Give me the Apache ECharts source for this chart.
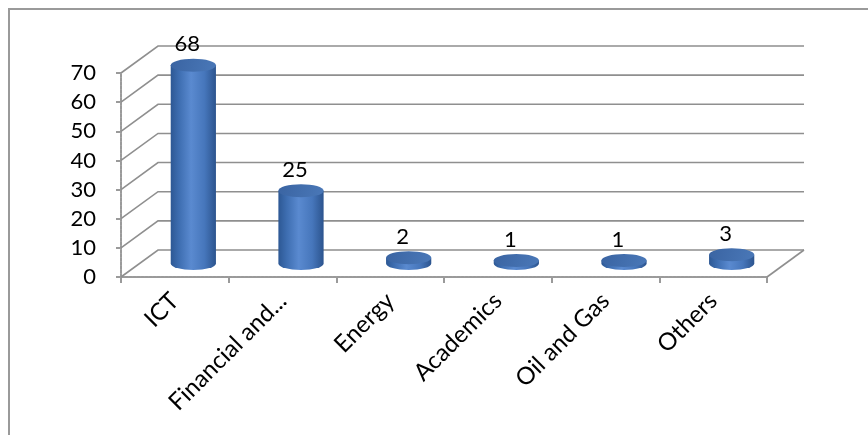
<!DOCTYPE html>
<html>
<head>
<meta charset="utf-8">
<script src="https://cdn.jsdelivr.net/npm/echarts@6/dist/echarts.min.js"></script>
<style>
  html, body { margin: 0; padding: 0; background: #ffffff; }
  #chart { width: 868px; height: 435px; }
</style>
</head>
<body>
<div id="chart"></div>
<script>
// Respondents by sector
const categories = ['ICT', 'Financial and...', 'Energy', 'Academics', 'Oil and Gas', 'Others'];
const respondents = [68, 25, 2, 1, 1, 3];
const yTicks = [0, 10, 20, 30, 40, 50, 60, 70];

// Depth of the pseudo-3D box (offset from the front plane to the back wall)
const DEPTH_X = 37;
const DEPTH_Y = -27;
const GRID_COLOR = '#8f8f8f';
const FONT = 'Lato, "Open Sans", sans-serif';

const chart = echarts.init(document.getElementById('chart'), null, { renderer: 'canvas' });

function ellipsePath(cx, cy, rx, ry) {
  return 'M' + (cx - rx) + ' ' + cy +
    ' A' + rx + ' ' + ry + ' 0 1 0 ' + (cx + rx) + ' ' + cy +
    ' A' + rx + ' ' + ry + ' 0 1 0 ' + (cx - rx) + ' ' + cy + ' Z';
}

// Back wall grid lines, left side wall diagonals and the floor outline
function renderWall(params, api) {
  const cs = params.coordSys;
  const v = api.value(1);
  const y = api.coord([0, v])[1];
  const x0 = cs.x;
  const x1 = cs.x + cs.width;
  const children = [{
    type: 'polyline',
    shape: { points: [[x0, y], [x0 + DEPTH_X, y + DEPTH_Y], [x1 + DEPTH_X, y + DEPTH_Y]] },
    style: { stroke: GRID_COLOR, lineWidth: 1.6, fill: null }
  }];
  if (v === 0) {
    children.push({
      type: 'line',
      shape: { x1: x1, y1: y, x2: x1 + DEPTH_X, y2: y + DEPTH_Y },
      style: { stroke: GRID_COLOR, lineWidth: 1.6 }
    });
  }
  return { type: 'group', children: children };
}

// Cylinder bars standing in the middle of the box depth
function renderCylinder(params, api) {
  const i = api.value(0);
  const v = api.value(1);
  const base = api.coord([i, 0]);
  const top = api.coord([i, v]);
  const w = api.size([1, 0])[0] * 0.42;
  const rx = w / 2;
  const ry = 6.5;
  const cx = base[0] + DEPTH_X / 2;
  const yb = base[1] + DEPTH_Y / 2;
  const yt = top[1] + DEPTH_Y / 2;
  const bodyPath = 'M' + (cx - rx) + ' ' + yt +
    ' L' + (cx - rx) + ' ' + yb +
    ' A' + rx + ' ' + ry + ' 0 0 0 ' + (cx + rx) + ' ' + yb +
    ' L' + (cx + rx) + ' ' + yt + ' Z';
  return {
    type: 'group',
    children: [
      {
        type: 'path',
        shape: { pathData: bodyPath },
        style: {
          fill: new echarts.graphic.LinearGradient(0, 0, 1, 0, [
            { offset: 0, color: '#2d5894' },
            { offset: 0.18, color: '#3d6db0' },
            { offset: 0.45, color: '#5a8ad0' },
            { offset: 0.75, color: '#4676bb' },
            { offset: 1, color: '#2c548e' }
          ])
        }
      },
      {
        type: 'path',
        shape: { pathData: ellipsePath(cx, yt, rx, ry) },
        style: {
          fill: new echarts.graphic.LinearGradient(0, 0, 1, 1, [
            { offset: 0, color: '#3a64a2' },
            { offset: 1, color: '#4a78b8' }
          ])
        }
      },
      {
        type: 'text',
        style: {
          text: String(v),
          x: cx - 6,
          y: yt - 21,
          align: 'center',
          verticalAlign: 'middle',
          font: '22px ' + FONT,
          fill: '#000000'
        }
      }
    ]
  };
}

const option = {
  backgroundColor: '#ffffff',
  animation: false,
  graphic: [{
    type: 'rect',
    shape: { x: 9, y: 9, width: 900, height: 500 },
    style: { fill: null, stroke: '#9a9a9a', lineWidth: 2 },
    silent: true,
    z: -10
  }],
  grid: { left: 121, right: 101, top: 73, bottom: 158 },
  xAxis: {
    type: 'category',
    data: categories,
    boundaryGap: true,
    axisLine: { show: true, lineStyle: { color: '#9a9a9a', width: 2, type: [3, 1] } },
    axisTick: { show: true, length: 6, interval: 0, lineStyle: { color: '#9a9a9a', width: 2 } },
    axisLabel: {
      interval: 0,
      rotate: 45,
      margin: 20,
      color: '#000000',
      fontSize: 24,
      fontFamily: FONT
    },
    splitLine: { show: false }
  },
  yAxis: {
    type: 'value',
    min: 0,
    max: 70,
    interval: 10,
    axisLine: { show: true, lineStyle: { color: '#9a9a9a', width: 2, type: [3, 1] } },
    axisTick: { show: true, length: 5, lineStyle: { color: '#9a9a9a', width: 2 } },
    axisLabel: {
      margin: 25,
      color: '#000000',
      fontSize: 22,
      fontFamily: FONT
    },
    splitLine: { show: false }
  },
  series: [
    {
      type: 'custom',
      name: 'wall',
      silent: true,
      clip: false,
      z: 1,
      renderItem: renderWall,
      data: yTicks.map(function (t) { return [0, t]; })
    },
    {
      type: 'custom',
      name: 'Respondents',
      silent: true,
      clip: false,
      z: 3,
      renderItem: renderCylinder,
      data: respondents.map(function (v, i) { return [i, v]; })
    }
  ]
};

chart.setOption(option);
</script>
</body>
</html>
